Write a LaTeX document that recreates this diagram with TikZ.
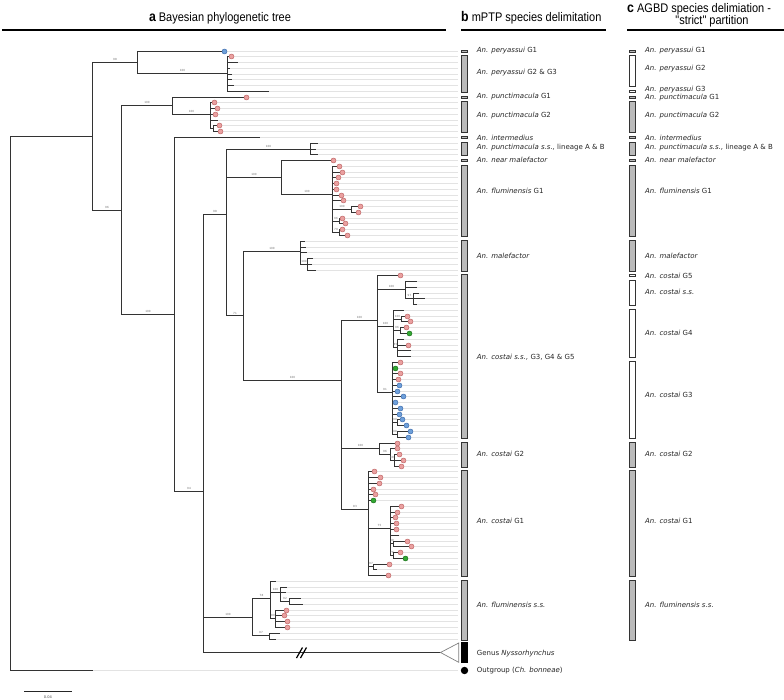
\documentclass[tikz,border=0pt]{standalone}
\usepackage{fontspec}
\setmainfont{DejaVu Sans}
\newfontfamily\headfont[FakeStretch=0.88]{Liberation Sans}
\definecolor{pkf}{RGB}{234,160,160}
\definecolor{pkd}{RGB}{190,100,100}
\definecolor{blf}{RGB}{110,160,218}
\definecolor{bld}{RGB}{60,105,170}
\definecolor{grf}{RGB}{50,168,50}
\definecolor{grd}{RGB}{25,110,25}
\newcommand\RY[1]{floor(51+5.765*(#1))+0.5}
\newcommand\mktip[2]{\coordinate (t#1) at ({floor(#2)+0.5},{\RY{#1}}); \coordinate (g#1) at (458,{\RY{#1}}); \draw[guide] (t#1) -- (g#1);}
\newcommand\nd[3]{\coordinate (#1) at ({floor(#2)+0.5},{floor(#3)+0.5});}
\newcommand\brn[2]{\draw[tree] (#1) |- (#2);}
\newcommand\brb[3]{\draw[tree] (#1) |- node[blab]{#3} (#2);}
\newcommand\sbar[4]{\draw[#4] (#1,{\RY{#2}-1.6}) rectangle ({#1+5.7},{\RY{#3}+1.3});}
\begin{document}
\begin{tikzpicture}[x=1pt,y=-1pt,
  tree/.style={draw=black!80, line width=1.75pt},
  guide/.style={draw=black!11, line width=1pt},
  blab/.style={pos=0.75, above=0.3pt, inner sep=0.3pt, font=\fontsize{2.8}{3}\selectfont, text=black!55},
  tipdot/.style={circle, minimum size=5pt, inner sep=0pt, line width=0.45pt},
  pk/.style={tipdot, draw=pkd, fill=pkf},
  bl/.style={tipdot, draw=bld, fill=blf},
  gr/.style={tipdot, draw=grd, fill=grf},
  gbar/.style={draw=black!80, fill=black!27, line width=0.65pt},
  wbar/.style={draw=black!80, fill=white, line width=0.65pt},
  kbar/.style={draw=black, fill=black, line width=0.65pt},
  lab/.style={anchor=west, inner sep=0pt, font=\fontsize{7}{8}\selectfont, text=black!85},
  hd/.style={inner sep=0pt, font=\headfont\fontsize{12.5}{13}\selectfont},
  hrule/.style={line width=2.3pt}
]
\fill[white] (0,0) rectangle (784,700);
\useasboundingbox (0,0) rectangle (784,700);

% ---------- tips and guide lines
\mktip{0}{224.3}\mktip{1}{231.7}\mktip{2}{237.3}\mktip{3}{229.3}\mktip{4}{231.7}
\mktip{5}{231}\mktip{6}{233.3}\mktip{7}{268.3}\mktip{8}{246.3}\mktip{9}{214.7}
\mktip{10}{217.7}\mktip{11}{215.7}\mktip{12}{217}\mktip{13}{219.7}\mktip{14}{220}
\mktip{15}{259.7}\mktip{16}{317.7}\mktip{17}{315}\mktip{18}{317.7}\mktip{19}{333.3}
\mktip{20}{339.3}\mktip{21}{342.7}\mktip{22}{338.7}\mktip{23}{336.7}\mktip{24}{336.7}
\mktip{25}{341.7}\mktip{26}{343.3}\mktip{27}{360.3}\mktip{28}{358.7}\mktip{29}{342.3}
\mktip{30}{345.7}\mktip{31}{342.7}\mktip{32}{347.7}\mktip{33}{304.3}\mktip{34}{305}
\mktip{35}{306.7}\mktip{36}{312.7}\mktip{37}{311}\mktip{38}{315.7}\mktip{39}{400}
\mktip{40}{416.7}\mktip{41}{416.7}\mktip{42}{418}\mktip{43}{424.3}\mktip{44}{416.7}
\mktip{45}{403}\mktip{46}{407.7}\mktip{47}{410}\mktip{48}{406.3}\mktip{49}{409}
\mktip{50}{403}\mktip{51}{408.7}\mktip{52}{410}\mktip{53}{410}\mktip{54}{400}
\mktip{55}{395.7}\mktip{56}{400}\mktip{57}{398}\mktip{58}{399.7}\mktip{59}{397.7}
\mktip{60}{403}\mktip{61}{395.7}\mktip{62}{400.3}\mktip{63}{399}\mktip{64}{402}
\mktip{65}{406.3}\mktip{66}{410.7}\mktip{67}{408.3}\mktip{68}{397.3}\mktip{69}{397.7}
\mktip{70}{399}\mktip{71}{403.3}\mktip{72}{401}\mktip{73}{374.3}\mktip{74}{380}
\mktip{75}{379.7}\mktip{76}{373}\mktip{77}{375}\mktip{78}{373.3}\mktip{79}{401.7}
\mktip{80}{397.3}\mktip{81}{395}\mktip{82}{396}\mktip{83}{396.3}\mktip{84}{398.3}
\mktip{85}{407.7}\mktip{86}{411.3}\mktip{87}{400.3}\mktip{88}{405.3}\mktip{89}{389.3}
\mktip{90}{376.7}\mktip{91}{388}\mktip{92}{275.7}\mktip{93}{286}\mktip{94}{285}
\mktip{95}{300.7}\mktip{96}{302.3}\mktip{97}{286.7}\mktip{98}{284.7}\mktip{99}{287}
\mktip{100}{287}\mktip{101}{279}\mktip{102}{275.7}
\nd{OG}{92.7}{670.3} \coordinate (gOG) at (458,670.5);
\draw[guide] (OG) -- (gOG);

% ---------- internal nodes
\nd{root}{10}{400}
\nd{A}{92.3}{136.7}
\nd{PER}{137.3}{62.3}
\nd{PER2}{227}{73.7}
\nd{B}{121}{210.3}
\nd{PG}{172.3}{105.7}
\nd{PG2}{210.3}{114.7}
\nd{PG2a}{213.3}{\RY{13.5}}
\nd{C}{174}{314.3}
\nd{D}{203.3}{491.7}
\nd{E}{226.7}{214.3}
\nd{PSS}{310}{149}
\nd{F}{281.7}{177}
\nd{FG1}{332.3}{194.7}
\nd{FG1a}{351.3}{\RY{27.5}}
\nd{FG1b}{339}{\RY{29.5}}
\nd{FG1c}{339}{\RY{31.5}}
\nd{H}{243.3}{315.7}
\nd{MAL}{300}{251}
\nd{MAL2}{307.7}{\RY{37}}
\nd{I}{341.7}{380.3}
\nd{J}{377.7}{320.7}
\nd{S1}{405.3}{289.3}
\nd{S1a}{413.3}{\RY{43}}
\nd{S2}{393.3}{326.3}
\nd{S2a}{401.7}{\RY{46.5}}
\nd{S2b}{400.7}{\RY{48.5}}
\nd{S2c}{397.3}{\RY{51.5}}
\nd{S3}{392.3}{392}
\nd{S3a}{397.3}{\RY{64.5}}
\nd{S3b}{397.3}{\RY{66.5}}
\nd{G2}{379}{448.7}
\nd{G2a}{390.3}{\RY{70}}
\nd{G2b}{394.3}{\RY{71}}
\nd{C1}{368.3}{509.3}
\nd{C1a}{390}{528}
\nd{C1b}{393.3}{\RY{85.5}}
\nd{C1c}{393.3}{\RY{87.5}}
\nd{C1d}{373.3}{\RY{89.5}}
\nd{FSS}{252.3}{617}
\nd{FSSa}{270.7}{598.3}
\nd{FSSc}{280.3}{\RY{94}}
\nd{FSSd}{289}{\RY{95.5}}
\nd{FSSe}{275.3}{\RY{98.5}}
\nd{FSSb}{269.3}{635.7}
\nd{NYS}{440}{652.7}

% ---------- branches
\brn{root}{A}\brn{root}{OG}
\brb{A}{PER}{98}\brb{A}{B}{96}
\brn{PER}{t0}\brb{PER}{PER2}{100}
\foreach \k in {1,...,7}{\brn{PER2}{t\k}}
\brb{B}{PG}{100}\brb{B}{C}{100}
\brn{PG}{t8}\brb{PG}{PG2}{100}
\foreach \k in {9,...,12}{\brn{PG2}{t\k}}
\brn{PG2}{PG2a}\brn{PG2a}{t13}\brn{PG2a}{t14}
\brn{C}{t15}\brb{C}{D}{94}
\brb{D}{E}{98}\brb{D}{FSS}{100}\brn{D}{NYS}
\brb{E}{PSS}{100}\brb{E}{F}{100}\brb{E}{H}{71}
\foreach \k in {16,17,18}{\brn{PSS}{t\k}}
\brn{F}{t19}\brb{F}{FG1}{100}
\foreach \k in {20,...,26}{\brn{FG1}{t\k}}
\brb{FG1}{FG1a}{100}\brb{FG1}{FG1b}{96}\brb{FG1}{FG1c}{79}
\brn{FG1a}{t27}\brn{FG1a}{t28}\brn{FG1b}{t29}\brn{FG1b}{t30}\brn{FG1c}{t31}\brn{FG1c}{t32}
\brb{H}{MAL}{100}\brb{H}{I}{100}
\foreach \k in {33,34,35}{\brn{MAL}{t\k}}
\brb{MAL}{MAL2}{100}
\foreach \k in {36,37,38}{\brn{MAL2}{t\k}}
\brb{I}{J}{100}\brb{I}{G2}{100}\brb{I}{C1}{83}
\brn{J}{t39}\brb{J}{S1}{100}\brb{J}{S2}{100}\brb{J}{S3}{91}
\brn{S1}{t40}\brn{S1}{t41}\brb{S1}{S1a}{97}
\foreach \k in {42,43,44}{\brn{S1a}{t\k}}
\brn{S2}{t45}\brb{S2}{S2a}{100}\brb{S2}{S2b}{96}\brb{S2}{S2c}{85}
\brn{S2a}{t46}\brn{S2a}{t47}\brn{S2b}{t48}\brn{S2b}{t49}
\foreach \k in {50,...,53}{\brn{S2c}{t\k}}
\foreach \k in {54,...,63}{\brn{S3}{t\k}}
\brb{S3}{S3a}{99}\brb{S3}{S3b}{98}
\brn{S3a}{t64}\brn{S3a}{t65}\brn{S3b}{t66}\brn{S3b}{t67}
\brn{G2}{t68}\brb{G2}{G2a}{96}
\brn{G2a}{t69}\brb{G2a}{G2b}{100}
\foreach \k in {70,71,72}{\brn{G2b}{t\k}}
\foreach \k in {73,...,78}{\brn{C1}{t\k}}
\brb{C1}{C1a}{75}\brb{C1}{C1d}{97}\brn{C1}{t91}
\foreach \k in {79,...,84}{\brn{C1a}{t\k}}
\brb{C1a}{C1b}{98}\brb{C1a}{C1c}{76}
\brn{C1b}{t85}\brn{C1b}{t86}\brn{C1c}{t87}\brn{C1c}{t88}
\brn{C1d}{t89}\brn{C1d}{t90}
\brb{FSS}{FSSa}{78}\brb{FSS}{FSSb}{97}
\brn{FSSa}{t92}\brb{FSSa}{FSSc}{100}\brb{FSSa}{FSSe}{80}
\brn{FSSc}{t93}\brn{FSSc}{t94}\brb{FSSc}{FSSd}{92}
\brn{FSSd}{t95}\brn{FSSd}{t96}
\foreach \k in {97,...,100}{\brn{FSSe}{t\k}}
\brn{FSSb}{t101}\brn{FSSb}{t102}

% collapsed Nyssorhynchus clade and break mark
\coordinate (NYSu) at (458.7,643);
\coordinate (NYSl) at (458.7,662.3);
\draw[draw=black!50, fill=white, line width=0.7pt] (NYS) -- (NYSu) -- (NYSl) -- cycle;
\coordinate (brk1a) at (296.5,658); \coordinate (brk1b) at (302.5,647.5);
\coordinate (brk2a) at (300.5,658); \coordinate (brk2b) at (306.5,647.5);
\draw[line width=1.2pt] (brk1a) -- (brk1b);
\draw[line width=1.2pt] (brk2a) -- (brk2b);

% ---------- tip markers
\foreach \k in {1,8,9,10,11,13,14,19,20,...,32,39,46,47,48,51,54,56,57,68,69,...,77,79,80,...,83,85,86,87,89,91,97,98,99,100}{\node[pk] (m\k) at (t\k) {};}
\foreach \k in {0,58,59,...,67}{\node[bl] (m\k) at (t\k) {};}
\foreach \k in {49,55,78,88}{\node[gr] (m\k) at (t\k) {};}

% ---------- mPTP bars (column b)
\sbar{461.7}{0}{0}{gbar}\sbar{461.7}{1}{7}{gbar}\sbar{461.7}{8}{8}{gbar}
\sbar{461.7}{9}{14}{gbar}\sbar{461.7}{15}{15}{gbar}\sbar{461.7}{16}{18}{gbar}
\sbar{461.7}{19}{19}{gbar}\sbar{461.7}{20}{32}{gbar}\sbar{461.7}{33}{38}{gbar}
\sbar{461.7}{39}{67}{gbar}\sbar{461.7}{68}{72}{gbar}\sbar{461.7}{73}{91}{gbar}
\sbar{461.7}{92}{102}{gbar}
\draw[kbar] (461.7,642.3) rectangle (467.4,662);
\node[circle, fill=black, minimum size=7.4pt, inner sep=0pt] (ogdot) at (464.5,670.5) {};

% ---------- AGBD bars (column c)
\sbar{629.5}{0}{0}{gbar}\sbar{629.5}{1}{6}{wbar}\sbar{629.5}{7}{7}{wbar}
\sbar{629.5}{8}{8}{gbar}\sbar{629.5}{9}{14}{gbar}\sbar{629.5}{15}{15}{gbar}
\sbar{629.5}{16}{18}{gbar}\sbar{629.5}{19}{19}{gbar}\sbar{629.5}{20}{32}{gbar}
\sbar{629.5}{33}{38}{gbar}\sbar{629.5}{39}{39}{wbar}\sbar{629.5}{40}{44}{wbar}
\sbar{629.5}{45}{53}{wbar}\sbar{629.5}{54}{67}{wbar}\sbar{629.5}{68}{72}{gbar}
\sbar{629.5}{73}{91}{gbar}\sbar{629.5}{92}{102}{gbar}

% ---------- labels column b
\node[lab] (lb1) at (476.7,51) {\itshape An. peryassui\/ \upshape G1};
\node[lab] (lb2) at (476.7,72.7) {\itshape An. peryassui\/ \upshape G2 \& G3};
\node[lab] (lb3) at (476.7,97) {\itshape An. punctimacula\/ \upshape G1};
\node[lab] (lb4) at (476.7,116) {\itshape An. punctimacula\/ \upshape G2};
\node[lab] (lb5) at (476.7,137.5) {\itshape An. intermedius};
\node[lab] (lb6) at (476.7,147.7) {\itshape An. punctimacula s.s.,\/ \upshape lineage A \& B};
\node[lab] (lb7) at (476.7,160.3) {\itshape An. near malefactor};
\node[lab] (lb8) at (476.7,191) {\itshape An. fluminensis\/ \upshape G1};
\node[lab] (lb9) at (476.7,255.7) {\itshape An. malefactor};
\node[lab] (lb10) at (476.7,357.7) {\itshape An. costai s.s.,\/ \upshape G3, G4 \& G5};
\node[lab] (lb11) at (476.7,454) {\itshape An. costai\/ \upshape G2};
\node[lab] (lb12) at (476.7,521.3) {\itshape An. costai\/ \upshape G1};
\node[lab] (lb13) at (476.7,605.3) {\itshape An. fluminensis s.s.};
\node[lab] (lb14) at (476.7,653.7) {Genus \itshape Nyssorhynchus};
\node[lab] (lb15) at (476.7,671) {Outgroup (\textit{Ch. bonneae})};

% ---------- labels column c
\node[lab] (lc1) at (645,51) {\itshape An. peryassui\/ \upshape G1};
\node[lab] (lc2) at (645,69) {\itshape An. peryassui\/ \upshape G2};
\node[lab] (lc3) at (645,89.7) {\itshape An. peryassui\/ \upshape G3};
\node[lab] (lc4) at (645,97.5) {\itshape An. punctimacula\/ \upshape G1};
\node[lab] (lc5) at (645,116) {\itshape An. punctimacula\/ \upshape G2};
\node[lab] (lc6) at (645,137.5) {\itshape An. intermedius};
\node[lab] (lc7) at (645,147.7) {\itshape An. punctimacula s.s.,\/ \upshape lineage A \& B};
\node[lab] (lc8) at (645,160.3) {\itshape An. near malefactor};
\node[lab] (lc9) at (645,191) {\itshape An. fluminensis\/ \upshape G1};
\node[lab] (lc10) at (645,255.7) {\itshape An. malefactor};
\node[lab] (lc11) at (645,276.3) {\itshape An. costai\/ \upshape G5};
\node[lab] (lc12) at (645,292.3) {\itshape An. costai s.s.};
\node[lab] (lc13) at (645,332.7) {\itshape An. costai\/ \upshape G4};
\node[lab] (lc14) at (645,395) {\itshape An. costai\/ \upshape G3};
\node[lab] (lc15) at (645,454) {\itshape An. costai\/ \upshape G2};
\node[lab] (lc16) at (645,521.3) {\itshape An. costai\/ \upshape G1};
\node[lab] (lc17) at (645,605.3) {\itshape An. fluminensis s.s.};

% ---------- headers
\node[hd, anchor=base] (ha) at (220,22) {{\fontsize{14}{14}\selectfont\bfseries a} Bayesian phylogenetic tree};
\node[hd, anchor=base west] (hb) at (461,22) {{\fontsize{14}{14}\selectfont\bfseries b} mPTP species delimitation};
\node[hd, anchor=base west] (hc) at (627,12.5) {{\fontsize{14}{14}\selectfont\bfseries c} AGBD species delimiation -};
\node[hd, anchor=base] (hc2) at (712,24.5) {"strict" partition};
\coordinate (r1a) at (2,30); \coordinate (r1b) at (446,30);
\coordinate (r2a) at (461,30); \coordinate (r2b) at (606,30);
\coordinate (r3a) at (627,30); \coordinate (r3b) at (784,30);
\draw[hrule] (r1a) -- (r1b);
\draw[hrule] (r2a) -- (r2b);
\draw[hrule] (r3a) -- (r3b);

% ---------- scale bar
\coordinate (sb1) at (24.3,691.5); \coordinate (sb2) at (71.7,691.5);
\draw[line width=1.2pt, draw=black!85] (sb1) -- (sb2);
\node[inner sep=0pt, font=\fontsize{3.6}{4}\selectfont, text=black!70] (sbl) at (48,697.3) {0.04};
\end{tikzpicture}
\end{document}
